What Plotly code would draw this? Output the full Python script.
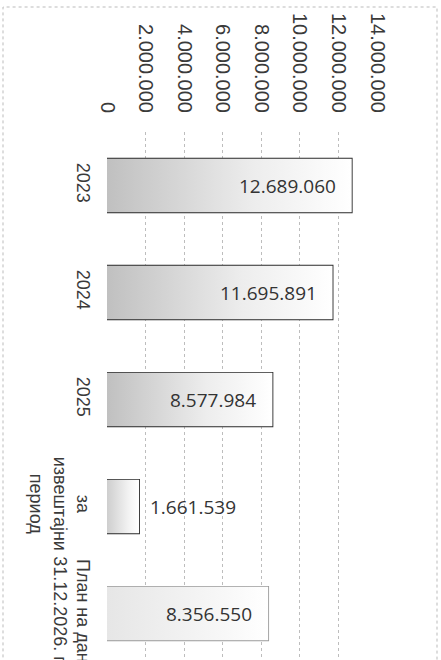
import plotly.graph_objects as go

categories = ["2023", "2024", "2025", "за<br>извештајни<br>период", "План на дан<br>31.12.2026. г."]
values = [12689060, 11695891, 8577984, 1661539, 8356550]
value_labels = ["12.689.060", "11.695.891", "8.577.984", "1.661.539", "8.356.550"]
tick_values = [0, 2000000, 4000000, 6000000, 8000000, 10000000, 12000000, 14000000]
tick_labels = ["0", "2.000.000", "4.000.000", "6.000.000", "8.000.000", "10.000.000", "12.000.000", "14.000.000"]

grad_dark = [[0, "#c0c0c0"], [0.6, "#ededed"], [1, "#ffffff"]]
grad_mid = [[0, "#cecece"], [0.7, "#f4f4f4"], [1, "#ffffff"]]
grad_light = [[0, "#e6e6e6"], [0.7, "#f7f7f7"], [1, "#ffffff"]]
gradients = [grad_dark, grad_dark, grad_dark, grad_mid, grad_light]
edge_colors = ["#2a2a2a", "#2a2a2a", "#2a2a2a", "#2a2a2a", "#9a9a9a"]
half = 0.25

fig = go.Figure()
for i, v in enumerate(values):
    fig.add_trace(go.Scatter(
        x=[0, v, v, 0, 0],
        y=[i - half, i - half, i + half, i + half, i - half],
        mode="lines", line=dict(width=0), fill="toself",
        fillgradient=dict(type="horizontal", colorscale=gradients[i]),
        hoverinfo="skip", showlegend=False,
    ))

fig.add_trace(go.Bar(
    x=values, y=list(range(len(values))), orientation="h", width=2 * half,
    marker=dict(color="rgba(0,0,0,0)", line=dict(color=edge_colors, width=1.8)),
    showlegend=False,
))

for i, (v, t) in enumerate(zip(values, value_labels)):
    inside = v > 3000000
    fig.add_annotation(
        x=v, y=i, text=t, showarrow=False,
        xanchor="right" if inside else "left",
        xshift=-14 if inside else 9,
        font=dict(family="Open Sans", size=19, color="#333333"),
    )

fig.add_shape(type="rect", xref="paper", yref="paper",
              x0=(3 - 107) / 270, x1=(437 - 107) / 270, y0=-0.2, y1=(660 - 7) / 528,
              line=dict(color="#bbbbbb", width=1, dash="dot"), layer="below")

fig.update_layout(
    width=441, height=660,
    margin=dict(l=107, r=64, t=132, b=0, autoexpand=False),
    paper_bgcolor="white", plot_bgcolor="white",
    xaxis=dict(
        range=[0, 14000000], tickvals=tick_values, ticktext=tick_labels,
        side="top", tickangle=90, showgrid=True, gridcolor="#bdbdbd",
        griddash="dot", gridwidth=1, zeroline=False, showline=False,
        ticks="", ticklabelstandoff=15, automargin=False,
        tickfont=dict(family="Liberation Sans", size=20, color="#3a3a3a"),
    ),
    yaxis=dict(
        range=[4.434, -0.5], tickvals=list(range(len(categories))), ticktext=categories,
        tickangle=90, showgrid=False, zeroline=False, showline=False, ticks="",
        ticklabelstandoff=11, automargin=False, ticklabeloverflow="allow",
        tickfont=dict(family="Liberation Sans", size=18, color="#3a3a3a"),
    ),
)

fig.write_html("out.html", config={"displayModeBar": False},
               post_script="document.body.style.margin='0';")
